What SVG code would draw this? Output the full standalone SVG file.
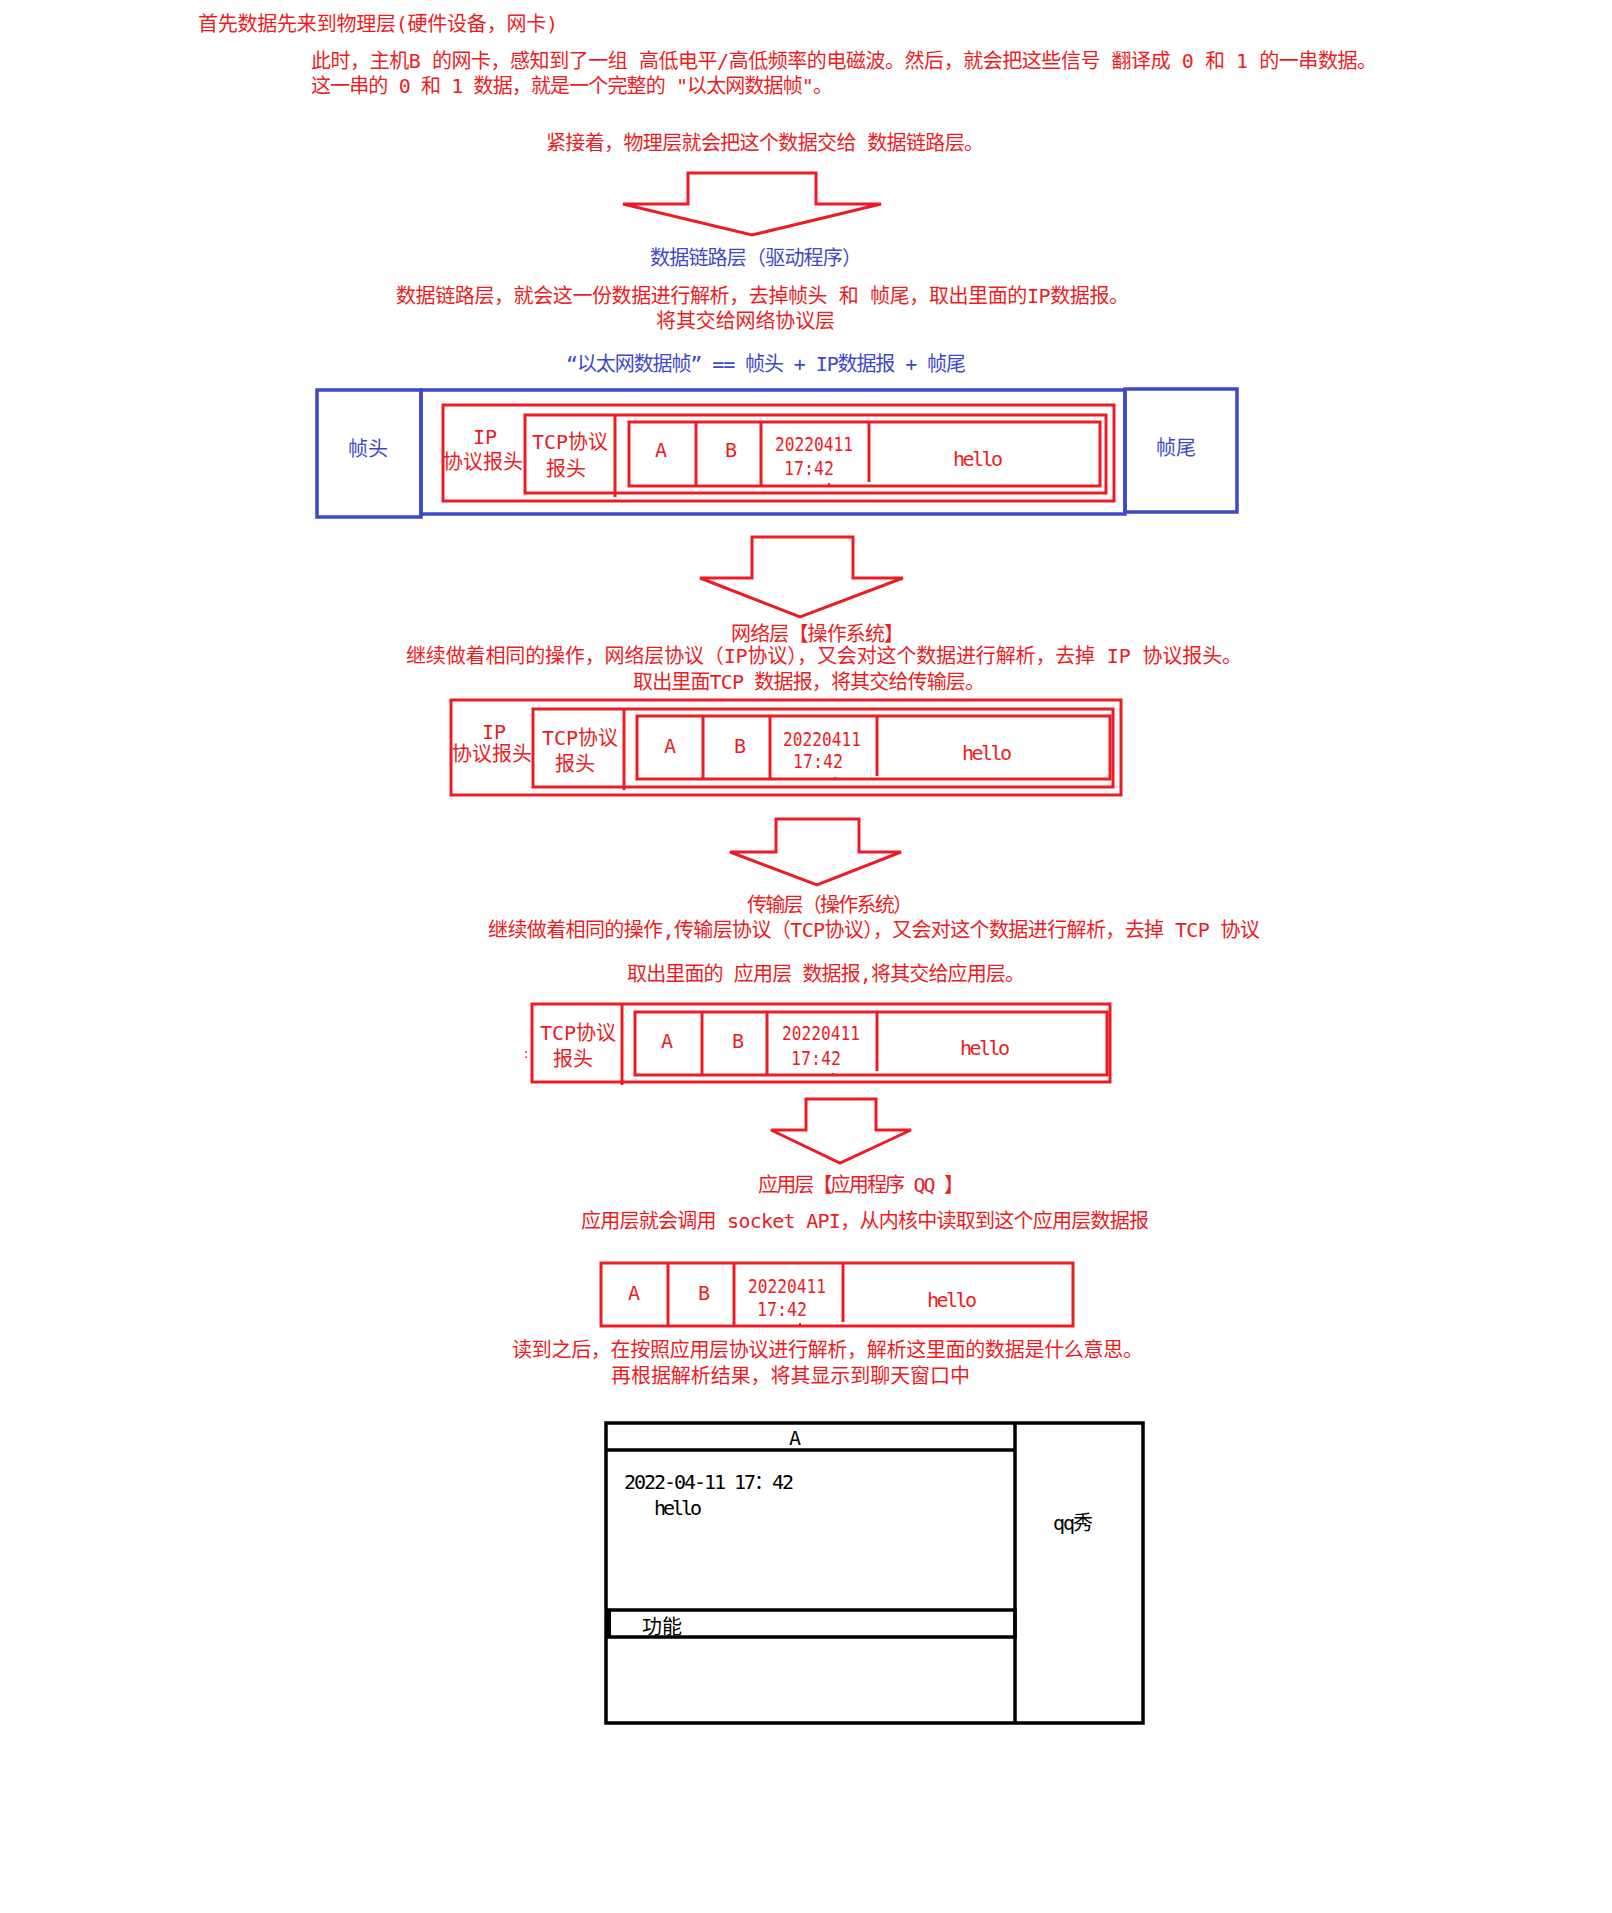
<svg xmlns="http://www.w3.org/2000/svg" width="1612" height="1913" viewBox="0 0 1612 1913">
<style>
text{font-family:"DejaVu Sans Mono","Noto Sans CJK SC",monospace;font-size:20px}
.r{fill:#ED1C24}
.b{fill:#3F48CC}
.k{fill:#000}
.m{text-anchor:middle}
.rs{fill:none;stroke:#ED1C24;stroke-width:3}
.bs{fill:none;stroke:#3F48CC;stroke-width:3.5}
.ks{fill:none;stroke:#000;stroke-width:3.5}
.arrow{fill:none;stroke:#ED1C24;stroke-width:3;stroke-linejoin:miter}
</style>
<rect x="0" y="0" width="1612" height="1913" fill="#fff"/>

<g id="physical-text">
<text class="r" x="198" y="31" textLength="360" lengthAdjust="spacing">首先数据先来到物理层(硬件设备，网卡)</text>
<text class="r" x="311" y="68" textLength="1066" lengthAdjust="spacing">此时，主机B 的网卡，感知到了一组 高低电平/高低频率的电磁波。然后，就会把这些信号 翻译成 0 和 1 的一串数据。</text>
<text class="r" x="311" y="93" textLength="522" lengthAdjust="spacing">这一串的 0 和 1 数据，就是一个完整的 "以太网数据帧"。</text>
<text class="r" x="546" y="150" textLength="438" lengthAdjust="spacing">紧接着，物理层就会把这个数据交给 数据链路层。</text>
</g>

<g id="datalink-text">
<text class="b" x="650" y="265" textLength="212" lengthAdjust="spacing">数据链路层（驱动程序）</text>
<text class="r" x="396" y="303" textLength="733" lengthAdjust="spacing">数据链路层，就会这一份数据进行解析，去掉帧头 和 帧尾，取出里面的IP数据报。</text>
<text class="r" x="656" y="328" textLength="179" lengthAdjust="spacing">将其交给网络协议层</text>
<text class="b" x="566" y="371" textLength="400" lengthAdjust="spacing">“以太网数据帧” == 帧头 + IP数据报 + 帧尾</text>
</g>

<g id="ethernet-frame">
<rect class="bs" x="317" y="390" width="104" height="127"/>
<rect class="bs" x="421" y="390" width="704" height="124"/>
<rect class="bs" x="1125" y="389" width="112" height="123"/>
<text class="b m" x="368" y="456">帧头</text>
<text class="b m" x="1176" y="455">帧尾</text>
<rect class="rs" x="443" y="405" width="671" height="96"/>
<rect class="rs" x="525" y="415" width="581" height="78"/>
<line class="rs" x1="615" y1="415" x2="615" y2="497"/>
<rect class="rs" x="629" y="422" width="471" height="64"/>
<line class="rs" x1="696" y1="422" x2="696" y2="486"/>
<line class="rs" x1="761" y1="422" x2="761" y2="486"/>
<line class="rs" x1="869" y1="422" x2="869" y2="482"/>
<rect x="828" y="483" width="2" height="2" fill="#ED1C24"/>
<text class="r m" x="485" y="444">IP</text>
<text class="r m" x="483" y="469">协议报头</text>
<text class="r m" x="570" y="449">TCP协议</text>
<text class="r m" x="566" y="476">报头</text>
<text class="r m" x="661" y="457">A</text>
<text class="r m" x="731" y="457">B</text>
<text class="r m" x="814" y="451" textLength="78" lengthAdjust="spacingAndGlyphs">20220411</text>
<text class="r m" x="809" y="475" textLength="50" lengthAdjust="spacingAndGlyphs">17:42</text>
<text class="r m" x="978" y="466" textLength="50" lengthAdjust="spacing">hello</text>
</g>

<g id="network-text">
<text class="r" x="731" y="641" textLength="173" lengthAdjust="spacing">网络层【操作系统】</text>
<text class="r" x="406" y="663" textLength="836" lengthAdjust="spacing">继续做着相同的操作，网络层协议（IP协议），又会对这个数据进行解析，去掉 IP 协议报头。</text>
<text class="r" x="633" y="689" textLength="352" lengthAdjust="spacing">取出里面TCP 数据报，将其交给传输层。</text>
</g>

<g id="ip-datagram">
<rect class="rs" x="451" y="700" width="670" height="95"/>
<rect class="rs" x="533" y="709" width="580" height="78"/>
<line class="rs" x1="624" y1="709" x2="624" y2="790"/>
<rect class="rs" x="637" y="716" width="473" height="63"/>
<line class="rs" x1="703" y1="716" x2="703" y2="779"/>
<line class="rs" x1="770" y1="716" x2="770" y2="779"/>
<line class="rs" x1="877" y1="716" x2="877" y2="776"/>
<rect x="834" y="777" width="2" height="2" fill="#ED1C24"/>
<text class="r m" x="494" y="739">IP</text>
<text class="r m" x="492" y="761">协议报头</text>
<text class="r m" x="580" y="745">TCP协议</text>
<text class="r m" x="575" y="771">报头</text>
<text class="r m" x="670" y="753">A</text>
<text class="r m" x="740" y="753">B</text>
<text class="r m" x="822" y="746" textLength="78" lengthAdjust="spacingAndGlyphs">20220411</text>
<text class="r m" x="818" y="768" textLength="50" lengthAdjust="spacingAndGlyphs">17:42</text>
<text class="r m" x="987" y="760" textLength="50" lengthAdjust="spacing">hello</text>
</g>

<g id="transport-text">
<text class="r" x="747" y="912" textLength="166" lengthAdjust="spacing">传输层（操作系统）</text>
<text class="r" x="488" y="937" textLength="772" lengthAdjust="spacing">继续做着相同的操作,传输层协议（TCP协议），又会对这个数据进行解析，去掉 TCP 协议</text>
<text class="r" x="627" y="981" textLength="398" lengthAdjust="spacing">取出里面的 应用层 数据报,将其交给应用层。</text>
</g>

<g id="tcp-segment">
<rect class="rs" x="532" y="1004" width="578" height="78"/>
<line class="rs" x1="622" y1="1004" x2="622" y2="1085"/>
<rect class="rs" x="635" y="1012" width="472" height="63"/>
<line class="rs" x1="702" y1="1012" x2="702" y2="1075"/>
<line class="rs" x1="767" y1="1012" x2="767" y2="1075"/>
<line class="rs" x1="877" y1="1012" x2="877" y2="1071"/>
<rect x="832" y="1073" width="2" height="2" fill="#ED1C24"/>
<text class="r m" x="526" y="1058" style="font-size:12px">:</text>
<text class="r m" x="578" y="1040">TCP协议</text>
<text class="r m" x="573" y="1066">报头</text>
<text class="r m" x="667" y="1048">A</text>
<text class="r m" x="738" y="1048">B</text>
<text class="r m" x="821" y="1040" textLength="78" lengthAdjust="spacingAndGlyphs">20220411</text>
<text class="r m" x="816" y="1065" textLength="50" lengthAdjust="spacingAndGlyphs">17:42</text>
<text class="r m" x="985" y="1055" textLength="50" lengthAdjust="spacing">hello</text>
</g>

<g id="application-text">
<text class="r" x="758" y="1192" textLength="206" lengthAdjust="spacing">应用层【应用程序 QQ 】</text>
<text class="r" x="581" y="1228" textLength="568" lengthAdjust="spacing">应用层就会调用 socket API，从内核中读取到这个应用层数据报</text>
</g>

<g id="app-data">
<rect class="rs" x="601" y="1263" width="472" height="63"/>
<line class="rs" x1="668" y1="1263" x2="668" y2="1326"/>
<line class="rs" x1="734" y1="1263" x2="734" y2="1326"/>
<line class="rs" x1="843" y1="1263" x2="843" y2="1322"/>
<rect x="799" y="1323" width="2" height="2" fill="#ED1C24"/>
<text class="r m" x="634" y="1300">A</text>
<text class="r m" x="704" y="1300">B</text>
<text class="r m" x="787" y="1293" textLength="78" lengthAdjust="spacingAndGlyphs">20220411</text>
<text class="r m" x="782" y="1316" textLength="50" lengthAdjust="spacingAndGlyphs">17:42</text>
<text class="r m" x="952" y="1307" textLength="50" lengthAdjust="spacing">hello</text>
</g>

<g id="display-text">
<text class="r" x="512" y="1357" textLength="631" lengthAdjust="spacing">读到之后，在按照应用层协议进行解析，解析这里面的数据是什么意思。</text>
<text class="r" x="611" y="1383" textLength="359" lengthAdjust="spacing">再根据解析结果，将其显示到聊天窗口中</text>
</g>

<g id="chat-window">
<rect class="ks" x="606" y="1423" width="537" height="300"/>
<line class="ks" x1="1015" y1="1423" x2="1015" y2="1723"/>
<line class="ks" x1="606" y1="1450" x2="1015" y2="1450"/>
<rect class="ks" x="608" y="1610" width="407" height="27"/>
<rect x="608" y="1610" width="3" height="27" fill="#000"/>
<text class="k m" x="795" y="1445">A</text>
<text class="k" x="624" y="1489" textLength="170" lengthAdjust="spacing">2022-04-11 17：42</text>
<text class="k" x="654" y="1515" textLength="48" lengthAdjust="spacing">hello</text>
<text class="k" x="1053" y="1530" textLength="40" lengthAdjust="spacing">qq秀</text>
<text class="k" x="642" y="1634">功能</text>
</g>

<g id="connectors">
<path class="arrow" d="M623,204 H688 V173 H816 V204 H881 L752,235 Z"/>
<path class="arrow" d="M700,578 H752 V537 H853 V578 H903 L800,617 Z"/>
<path class="arrow" d="M730,852 H776 V819 H859 V852 H901 L817,885 Z"/>
<path class="arrow" d="M771,1130 H806 V1099 H876 V1130 H911 L840,1163 Z"/>
</g>
</svg>
